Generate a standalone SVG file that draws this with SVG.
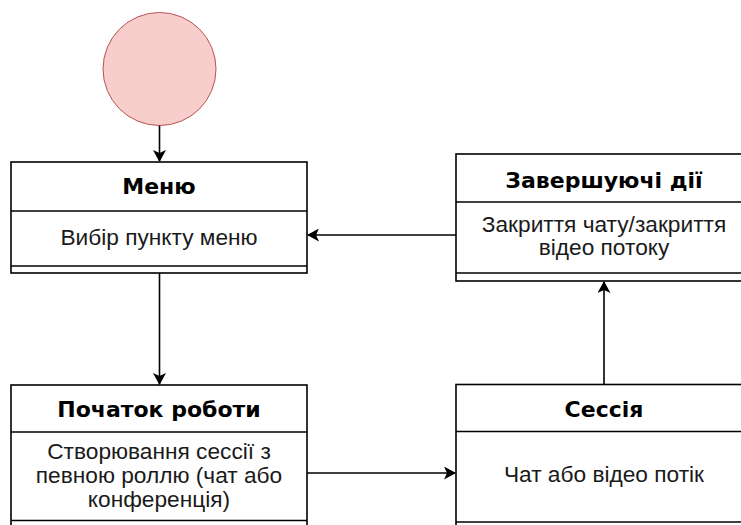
<svg xmlns="http://www.w3.org/2000/svg" width="741" height="525" viewBox="0 0 741 525">
  <style>
    .box { fill: #ffffff; stroke: #000000; stroke-width: 1.6; }
    .sep { fill: none; stroke: #000000; stroke-width: 1.6; }
    .title { font-family: "DejaVu Sans", "Liberation Sans", sans-serif; font-weight: bold; font-size: 22px; fill: #000000; text-anchor: middle; }
    .body { font-family: "Liberation Sans", Arial, sans-serif; font-size: 22.7px; fill: #1a1a1a; text-anchor: middle; }
    .edge { fill: none; stroke: #000000; stroke-width: 1.6; }
  </style>
  <defs>
    <marker id="arrow" viewBox="0 0 12 13" refX="11" refY="6.5" markerWidth="12" markerHeight="13" markerUnits="userSpaceOnUse" orient="auto">
      <path d="M0,0 L12,6.5 L0,13 L3,6.5 Z" fill="#000000"/>
    </marker>
  </defs>
  <rect width="741" height="525" fill="#ffffff"/>

  <!-- start state -->
  <g id="start">
    <circle cx="159.5" cy="69" r="56.5" fill="#f8cecc" stroke="#b85450" stroke-width="1"/>
  </g>

  <!-- Меню -->
  <g id="menu">
    <rect class="box" x="11" y="162" width="296" height="111"/>
    <line class="sep" x1="11" y1="211" x2="307" y2="211"/>
    <line class="sep" x1="11" y1="266" x2="307" y2="266"/>
    <text class="title" x="159" y="194">Меню</text>
    <text class="body" x="159" y="245">Вибір пункту меню</text>
  </g>

  <!-- Завершуючі дії -->
  <g id="finish">
    <rect class="box" x="456" y="154" width="296" height="127"/>
    <line class="sep" x1="456" y1="202" x2="752" y2="202"/>
    <line class="sep" x1="456" y1="273" x2="752" y2="273"/>
    <text class="title" x="604" y="188">Завершуючі дії</text>
    <text class="body" x="604" y="231.5">Закриття чату/закриття</text>
    <text class="body" x="604" y="255">відео потоку</text>
  </g>

  <!-- Початок роботи -->
  <g id="begin">
    <rect class="box" x="11" y="385" width="296" height="150"/>
    <line class="sep" x1="11" y1="432" x2="307" y2="432"/>
    <line class="sep" x1="11" y1="520.5" x2="307" y2="520.5"/>
    <text class="title" x="159" y="417">Початок роботи</text>
    <text class="body" x="159" y="459">Створювання сессії з</text>
    <text class="body" x="159" y="483">певною роллю (чат або</text>
    <text class="body" x="159" y="507">конференція)</text>
  </g>

  <!-- Сессія -->
  <g id="session">
    <rect class="box" x="456" y="384.5" width="296" height="150"/>
    <line class="sep" x1="456" y1="431.5" x2="752" y2="431.5"/>
    <line class="sep" x1="456" y1="522" x2="752" y2="522"/>
    <text class="title" x="604" y="417">Сессія</text>
    <text class="body" x="604" y="482">Чат або відео потік</text>
  </g>

  <!-- connectors -->
  <g id="edges">
    <line class="edge" x1="159.5" y1="125.5" x2="159.5" y2="161" marker-end="url(#arrow)"/>
    <line class="edge" x1="159.5" y1="273" x2="159.5" y2="384" marker-end="url(#arrow)"/>
    <line class="edge" x1="307" y1="473" x2="455" y2="473" marker-end="url(#arrow)"/>
    <line class="edge" x1="604" y1="384.5" x2="604" y2="282" marker-end="url(#arrow)"/>
    <line class="edge" x1="456" y1="235" x2="308" y2="235" marker-end="url(#arrow)"/>
  </g>
</svg>
